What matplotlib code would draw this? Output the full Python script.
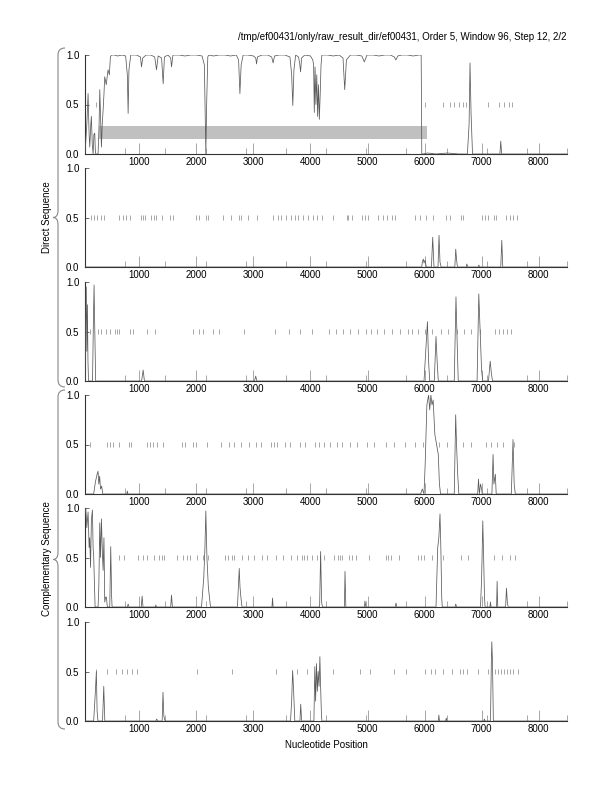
import numpy as np
import matplotlib
matplotlib.use("Agg")
import matplotlib.pyplot as plt
from matplotlib.path import Path
from matplotlib.patches import PathPatch

plt.rcParams['font.family'] = ['Liberation Sans', 'DejaVu Sans']

title = "/tmp/ef00431/only/raw_result_dir/ef00431, Order 5, Window 96, Step 12, 2/2"
x_range = (48, 8496)
major_ticks = [1000, 2000, 3000, 4000, 5000, 6000, 7000, 8000]
y_ticks = [0.0, 0.5, 1.0]
y_ticklabels = ["0.0", "0.5", "1.0"]

# predicted coding region (frame 1, direct)
gene_start, gene_end = 300, 6050
gene_low, gene_high = 0.15, 0.28

# coding potential curves, (position, value)
curve1 = [(48, 0.0), (80, 0.3), (102, 0.61), (120, 0.2), (131, 0.07), (150, 0.3), (160, 0.38),
          (175, 0.1), (190, 0.0), (205, 0.2), (219, 0.21), (228, 0.05), (236, 0.0), (260, 0.0),
          (277, 0.0), (295, 0.3), (307, 0.65), (320, 0.4), (336, 0.07), (350, 0.3), (365, 0.44),
          (380, 0.6), (394, 0.78), (420, 0.7), (452, 0.85), (475, 0.8), (493, 0.98), (511, 1.0),
          (560, 1.0), (620, 0.99), (700, 1.0), (760, 0.99), (790, 0.8), (804, 0.41), (818, 0.85),
          (850, 1.0), (950, 1.0), (1020, 0.98), (1038, 0.88), (1060, 0.97), (1120, 1.0), (1200, 1.0),
          (1270, 0.98), (1301, 0.85), (1330, 0.99), (1390, 0.97), (1418, 0.71), (1440, 0.98),
          (1500, 1.0), (1550, 0.97), (1564, 0.88), (1590, 1.0), (1700, 1.0), (1800, 0.99),
          (1900, 1.0), (2000, 1.0), (2100, 0.99), (2140, 0.9), (2155, 0.4), (2166, 0.0),
          (2180, 0.5), (2200, 0.98), (2215, 1.0), (2300, 0.99), (2400, 1.0), (2500, 1.0),
          (2600, 0.99), (2700, 1.0), (2740, 0.95), (2763, 0.61), (2785, 0.9), (2820, 1.0),
          (2900, 1.0), (3000, 0.99), (3040, 0.97), (3055, 0.91), (3070, 0.98), (3150, 1.0),
          (3250, 1.0), (3320, 0.98), (3345, 0.92), (3370, 0.99), (3450, 1.0), (3550, 1.0),
          (3640, 0.98), (3670, 0.8), (3690, 0.49), (3710, 0.85), (3740, 1.0), (3790, 0.98),
          (3810, 0.92), (3826, 0.83), (3845, 0.97), (3900, 1.0), (4000, 0.99), (4040, 0.95),
          (4055, 0.9), (4067, 0.42), (4080, 0.88), (4095, 0.5), (4110, 0.8), (4125, 0.38),
          (4140, 0.7), (4155, 0.35), (4170, 0.6), (4185, 0.9), (4200, 1.0), (4300, 1.0),
          (4400, 0.99), (4500, 1.0), (4570, 0.97), (4600, 0.65), (4630, 0.95), (4700, 1.0),
          (4800, 1.0), (4900, 0.99), (4944, 0.93), (4990, 1.0), (5100, 1.0), (5200, 0.99),
          (5300, 1.0), (5400, 1.0), (5470, 0.98), (5496, 0.95), (5530, 0.99), (5600, 1.0),
          (5700, 1.0), (5800, 0.99), (5900, 1.0), (5940, 1.0), (5951, 0.0), (5970, 0.0),
          (6050, 0.01), (6200, 0.0), (6400, 0.01), (6600, 0.0), (6750, 0.0), (6780, 0.3),
          (6796, 0.92), (6815, 0.4), (6840, 0.0), (7000, 0.0), (7200, 0.0), (7320, 0.0),
          (7335, 0.13), (7350, 0.0), (7500, 0.0), (7800, 0.0), (8100, 0.0), (8496, 0.0)]

curve2 = [(48, 0.0), (5950, 0.0), (5960, 0.05), (5978, 0.08), (5990, 0.04), (6010, 0.07),
          (6030, 0.0), (6120, 0.0), (6142, 0.30), (6165, 0.0), (6235, 0.0), (6253, 0.32),
          (6270, 0.05), (6290, 0.0), (6530, 0.0), (6546, 0.18), (6560, 0.08), (6575, 0.0),
          (6730, 0.0), (6739, 0.03), (6760, 0.0), (6940, 0.0), (6950, 0.02), (6965, 0.0),
          (7335, 0.0), (7353, 0.27), (7370, 0.0), (8496, 0.0)]

curve3 = [(48, 0.0), (60, 0.6), (70, 0.95), (80, 0.3), (90, 0.77), (100, 0.2), (110, 0.0),
          (180, 0.0), (195, 0.6), (207, 0.97), (220, 0.5), (235, 0.0), (1040, 0.0), (1067, 0.11),
          (1090, 0.0), (3020, 0.0), (3040, 0.05), (3060, 0.0), (5990, 0.0), (6020, 0.3),
          (6050, 0.6), (6070, 0.2), (6090, 0.0), (6170, 0.0), (6200, 0.45), (6220, 0.2),
          (6240, 0.0), (6520, 0.0), (6550, 0.85), (6575, 0.3), (6590, 0.0), (6920, 0.0),
          (6950, 0.88), (6980, 0.4), (7000, 0.1), (7020, 0.0), (7120, 0.0), (7150, 0.2),
          (7170, 0.08), (7190, 0.0), (8496, 0.0)]

curve4 = [(48, 0.0), (200, 0.0), (230, 0.12), (260, 0.2), (277, 0.23), (290, 0.1), (305, 0.18),
          (320, 0.05), (340, 0.08), (360, 0.0), (780, 0.0), (790, 0.03), (800, 0.0), (5930, 0.0),
          (5960, 0.05), (5990, 0.0), (6010, 0.3), (6040, 0.9), (6070, 1.0), (6090, 0.85),
          (6110, 1.0), (6130, 0.9), (6150, 0.95), (6180, 0.6), (6210, 0.5), (6240, 0.4),
          (6260, 0.1), (6280, 0.0), (6520, 0.0), (6545, 0.8), (6560, 0.5), (6580, 0.2),
          (6600, 0.0), (6930, 0.0), (6945, 0.15), (6960, 0.0), (6980, 0.1), (7000, 0.05),
          (7010, 0.0), (7180, 0.0), (7200, 0.4), (7215, 0.1), (7240, 0.2), (7255, 0.0),
          (7520, 0.0), (7550, 0.55), (7570, 0.1), (7590, 0.0), (8496, 0.0)]

curve5 = [(48, 0.95), (62, 1.0), (80, 0.8), (102, 0.96), (120, 0.6), (131, 0.7), (145, 0.4),
          (160, 0.88), (178, 0.98), (190, 0.6), (201, 0.5), (215, 0.2), (225, 0.0), (277, 0.0),
          (290, 0.2), (307, 0.85), (320, 0.5), (336, 0.89), (350, 0.6), (365, 0.37), (380, 0.7),
          (394, 0.05), (410, 0.1), (423, 0.1), (440, 0.0), (482, 0.0), (499, 0.61), (515, 0.1),
          (523, 0.0), (790, 0.0), (804, 0.03), (820, 0.0), (1035, 0.0), (1049, 0.11), (1065, 0.0),
          (1280, 0.0), (1289, 0.02), (1300, 0.0), (1550, 0.0), (1564, 0.12), (1580, 0.0),
          (2090, 0.0), (2130, 0.3), (2150, 0.6), (2166, 0.97), (2185, 0.5), (2210, 0.2),
          (2248, 0.0), (2720, 0.0), (2740, 0.25), (2751, 0.39), (2765, 0.2), (2780, 0.1),
          (2800, 0.0), (3325, 0.0), (3335, 0.09), (3345, 0.0), (4160, 0.0), (4178, 0.56),
          (4195, 0.05), (4210, 0.0), (4595, 0.0), (4605, 0.36), (4620, 0.0), (4945, 0.0),
          (4955, 0.06), (4970, 0.0), (5485, 0.0), (5498, 0.04), (5515, 0.0), (6200, 0.0),
          (6230, 0.6), (6250, 0.7), (6270, 0.94), (6285, 0.6), (6300, 0.1), (6310, 0.0),
          (6535, 0.0), (6546, 0.03), (6560, 0.0), (6980, 0.0), (7000, 0.3), (7020, 0.87),
          (7035, 0.5), (7050, 0.1), (7060, 0.0), (7145, 0.0), (7154, 0.05), (7165, 0.0),
          (7262, 0.0), (7271, 0.26), (7282, 0.0), (7420, 0.0), (7435, 0.19), (7450, 0.05),
          (7465, 0.0), (8496, 0.0)]

curve6 = [(48, 0.0), (200, 0.0), (230, 0.3), (247, 0.5), (260, 0.1), (275, 0.0), (355, 0.0),
          (377, 0.35), (395, 0.0), (1290, 0.0), (1305, 0.02), (1320, 0.0), (1400, 0.0),
          (1415, 0.29), (1430, 0.05), (1450, 0.0), (3650, 0.0), (3670, 0.2), (3687, 0.51),
          (3705, 0.3), (3725, 0.0), (3815, 0.0), (3829, 0.17), (3845, 0.0), (4060, 0.0),
          (4076, 0.55), (4090, 0.2), (4105, 0.58), (4120, 0.3), (4135, 0.5), (4150, 0.35),
          (4165, 0.65), (4175, 0.4), (4190, 0.1), (4200, 0.0), (6240, 0.0), (6250, 0.06),
          (6260, 0.0), (6370, 0.0), (6380, 0.03), (6390, 0.0), (7040, 0.0), (7048, 0.02),
          (7060, 0.0), (7155, 0.0), (7170, 0.6), (7178, 0.8), (7190, 0.6), (7205, 0.0),
          (8496, 0.0)]

# stop codon positions for each frame
stops1 = [240, 6003, 6328, 6452, 6523, 6601, 6666, 6718, 7108, 7303, 7394, 7478, 7524]
stops2 = [161, 207, 266, 325, 377, 646, 716, 763, 845, 1038, 1067, 1096, 1213, 1254, 1301,
          1389, 1535, 1593, 1986, 2044, 2166, 2207, 2470, 2600, 2751, 2780, 2908, 3055, 3347,
          3435, 3476, 3570, 3652, 3727, 3786, 3873, 3961, 4049, 4108, 4196, 4400, 4634, 4663,
          4722, 4897, 4955, 5002, 5189, 5277, 5347, 5423, 5482, 5832, 5920, 6025, 6153, 6376,
          6446, 6634, 6680, 7002, 7060, 7119, 7218, 7253, 7429, 7499, 7557, 7616]
stops3 = [144, 277, 337, 424, 482, 570, 610, 645, 833, 891, 1126, 1272, 1938, 2044, 2114,
          2289, 2394, 2833, 3377, 3622, 3815, 4026, 4324, 4447, 4570, 4692, 4833, 4974, 5061,
          5166, 5289, 5430, 5570, 5710, 5781, 5886, 6008, 6131, 6289, 6412, 6570, 6693, 6815,
          6973, 7236, 7306, 7376, 7446, 7517]
stops4 = [144, 425, 483, 530, 640, 821, 863, 1126, 1184, 1242, 1302, 1417, 1740, 1798, 1933,
          2000, 2180, 2440, 2580, 2660, 2790, 2920, 3040, 3130, 3300, 3360, 3420, 3560, 3640,
          3820, 3900, 4080, 4150, 4230, 4350, 4460, 4560, 4700, 4820, 4990, 5110, 5320, 5460,
          5660, 5840, 5970, 6260, 6400, 6680, 6820, 7080, 7160, 7270, 7380, 7560]
stops5 = [646, 728, 980, 1067, 1137, 1254, 1348, 1389, 1436, 1664, 1757, 1839, 1886, 2003,
          2108, 2207, 2500, 2558, 2617, 2658, 2793, 2908, 3008, 3143, 3231, 3394, 3522, 3652,
          3757, 3845, 3885, 3933, 4020, 4108, 4166, 4236, 4417, 4476, 4517, 4546, 4680, 4722,
          4797, 5031, 5324, 5364, 5406, 5557, 5890, 5932, 5990, 6125, 6329, 6639, 6767, 7218,
          7353, 7499, 7586]
stops6 = [247, 442, 585, 689, 779, 864, 961, 2019, 2616, 3395, 3764, 3946, 4400, 4874, 5036,
          5471, 5666, 6010, 6120, 6185, 6315, 6477, 6620, 6671, 6736, 6931, 7113, 7242, 7288,
          7333, 7385, 7437, 7489, 7547, 7632]

curves = [curve1, curve2, curve3, curve4, curve5, curve6]
stops = [stops1, stops2, stops3, stops4, stops5, stops6]

W, H = 612, 792
fig = plt.figure(figsize=(W / 100, H / 100), dpi=100)

panel_tops = [55, 168, 282, 395, 508, 622]
left_px, right_px, height_px = 85, 567, 99

for i in range(6):
    top = panel_tops[i]
    ax = fig.add_axes([left_px / W, 1 - (top + height_px) / H,
                       (right_px - left_px) / W, height_px / H])
    xs = [p[0] for p in curves[i]]
    ys = [p[1] for p in curves[i]]
    if i == 0:
        ax.barh((gene_low + gene_high) / 2, gene_end - gene_start, left=gene_start,
                height=gene_high - gene_low, color='#c0c0c0', zorder=1)
    ax.vlines(stops[i], 0.475, 0.525, color='#999999', lw=0.6, zorder=2)
    ax.plot(xs, ys, color='#5a5a5a', lw=0.55, zorder=3)

    ax.set_xlim(*x_range)
    ax.set_ylim(0, 1)
    ax.set_xticks(major_ticks)
    ax.set_xticklabels([str(t) for t in major_ticks])
    ax.set_xticks(np.linspace(x_range[0], x_range[1], 13), minor=True)
    ax.set_yticks(y_ticks)
    ax.set_yticklabels(y_ticklabels)
    ax.tick_params(axis='x', which='major', direction='in', length=8, width=0.6,
                   color='#999999', labelsize=7, pad=2)
    ax.tick_params(axis='x', which='minor', direction='in', length=4, width=0.6,
                   color='#999999')
    ax.tick_params(axis='y', direction='in', length=3, width=0.6, color='#555555',
                   labelsize=7, pad=4)
    for s in ['top', 'right']:
        ax.spines[s].set_visible(False)
    for s in ['left', 'bottom']:
        ax.spines[s].set_color('#333333')
        ax.spines[s].set_linewidth(0.8)
    ax.patch.set_alpha(0)


def brace(y0, y1):
    ym = (y0 + y1) / 2
    pts = [(65, y0), (58, y0), (58, y0 + 7),
           (58, ym - 7),
           (58, ym), (53, ym),
           (58, ym), (58, ym + 7),
           (58, y1 - 7),
           (58, y1), (65, y1)]
    codes = [Path.MOVETO, Path.CURVE3, Path.CURVE3, Path.LINETO,
             Path.CURVE3, Path.CURVE3, Path.CURVE3, Path.CURVE3,
             Path.LINETO, Path.CURVE3, Path.CURVE3]
    verts = [(x / W, 1 - y / H) for x, y in pts]
    patch = PathPatch(Path(verts, codes), facecolor='none', edgecolor='#888888',
                      lw=0.8, transform=fig.transFigure)
    fig.add_artist(patch)


brace(48, 387)
brace(390, 729)

fig.text(567 / W, 1 - 37 / H, title, ha='right', va='center', fontsize=7)
fig.text(47 / W, 1 - 217 / H, "Direct Sequence", rotation=90, ha='center', va='center', fontsize=7)
fig.text(47 / W, 1 - 559 / H, "Complementary Sequence", rotation=90, ha='center', va='center',
         fontsize=7)
fig.text(326 / W, 1 - 745 / H, "Nucleotide Position", ha='center', va='center', fontsize=7)

fig.savefig("out.png", dpi=100)
